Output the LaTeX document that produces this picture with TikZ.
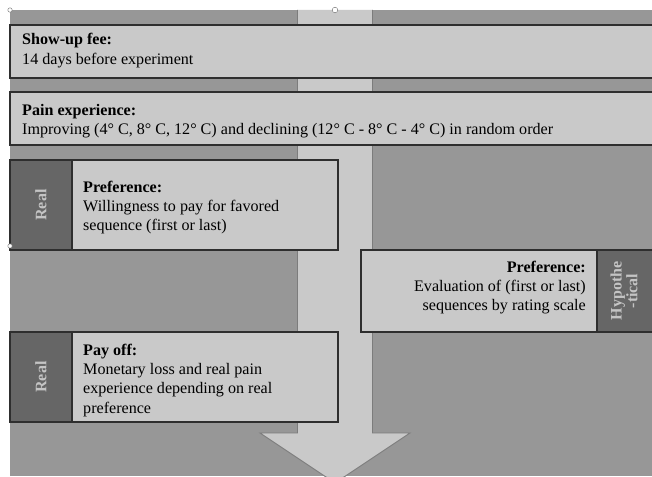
\documentclass[tikz,border=0pt]{standalone}
\usepackage{fontspec}
\setmainfont{Liberation Serif}
\definecolor{bgc}{HTML}{979797}
\definecolor{lightc}{HTML}{C9C9C9}
\definecolor{tabc}{HTML}{666666}
\definecolor{borderc}{HTML}{2E2E2E}
\definecolor{arrowc}{HTML}{7C7C7C}
\definecolor{tabtext}{HTML}{C4C4C4}
\newcommand{\txtsize}{\fontsize{16.1}{19.4}\selectfont}
\begin{document}
\begin{tikzpicture}[x=1pt,y=-1pt,
  box/.style={draw=borderc, line width=1.2pt, fill=lightc},
  tabbox/.style={draw=borderc, line width=1.2pt, fill=tabc},
  txt/.style={inner sep=0pt, font=\txtsize},
  tabtxt/.style={inner sep=0pt, rotate=90, text=tabtext, font=\fontsize{16}{12.5}\selectfont\bfseries},
  handle/.style={draw=gray, fill=white, line width=0.5pt}]
\useasboundingbox (0,0) rectangle (652,476);
\clip (0,0) rectangle (652,476);
% background
\fill[bgc] (10,10) rectangle (652,476);
% big arrow
\fill[lightc] (297.5,10) -- (297.5,433) -- (260,433) -- (335,483) -- (410,433) -- (372.5,433) -- (372.5,10) -- cycle;
\draw[arrowc, line width=0.9pt] (297.5,10) -- (297.5,433) -- (260,433) -- (335,483) -- (410,433) -- (372.5,433) -- (372.5,10);
% show-up fee
\draw[box] (10,25) rectangle (660,78);
\node[txt, anchor=base west] (show) at (22,45) {\begin{tabular}[t]{@{}l@{}}\textbf{Show-up fee:}\\14 days before experiment\end{tabular}};
% pain experience
\draw[box] (10,92) rectangle (660,145);
\node[txt, anchor=base west] (pain) at (22,115) {\begin{tabular}[t]{@{}l@{}}\textbf{Pain experience:}\\Improving (4° C, 8° C, 12° C) and declining (12° C - 8° C - 4° C) in random order\end{tabular}};
% real preference
\draw[tabbox] (10,160) rectangle (72,250);
\draw[box] (72,160) rectangle (338,250);
\node[tabtxt] (real1) at (41,205) {Real};
\node[txt, anchor=base west] (pref1) at (83,192) {\begin{tabular}[t]{@{}l@{}}\textbf{Preference:}\\Willingness to pay for favored\\sequence (first or last)\end{tabular}};
% hypothetical preference
\draw[box] (361,250) rectangle (597,332);
\draw[tabbox] (597,250) rectangle (660,332);
\node[tabtxt, align=center] (hyp) at (624,291) {Hypothe\\-tical};
\node[txt, anchor=base east] (pref2) at (586,272) {\begin{tabular}[t]{@{}r@{}}\textbf{Preference:}\\Evaluation of (first or last)\\sequences by rating scale\end{tabular}};
% pay off
\draw[tabbox] (10,332) rectangle (72,422);
\draw[box] (72,332) rectangle (338,422);
\node[tabtxt] (real2) at (41,377) {Real};
\node[txt, anchor=base west] (pay) at (83,355) {\begin{tabular}[t]{@{}l@{}}\textbf{Pay off:}\\Monetary loss and real pain\\experience depending on real\\preference\end{tabular}};
% selection handles
\draw[handle] (335,10) circle (2.8);
\draw[handle] (10,10) circle (2.2);
\draw[handle] (10,246) circle (2.2);
\end{tikzpicture}
\end{document}
